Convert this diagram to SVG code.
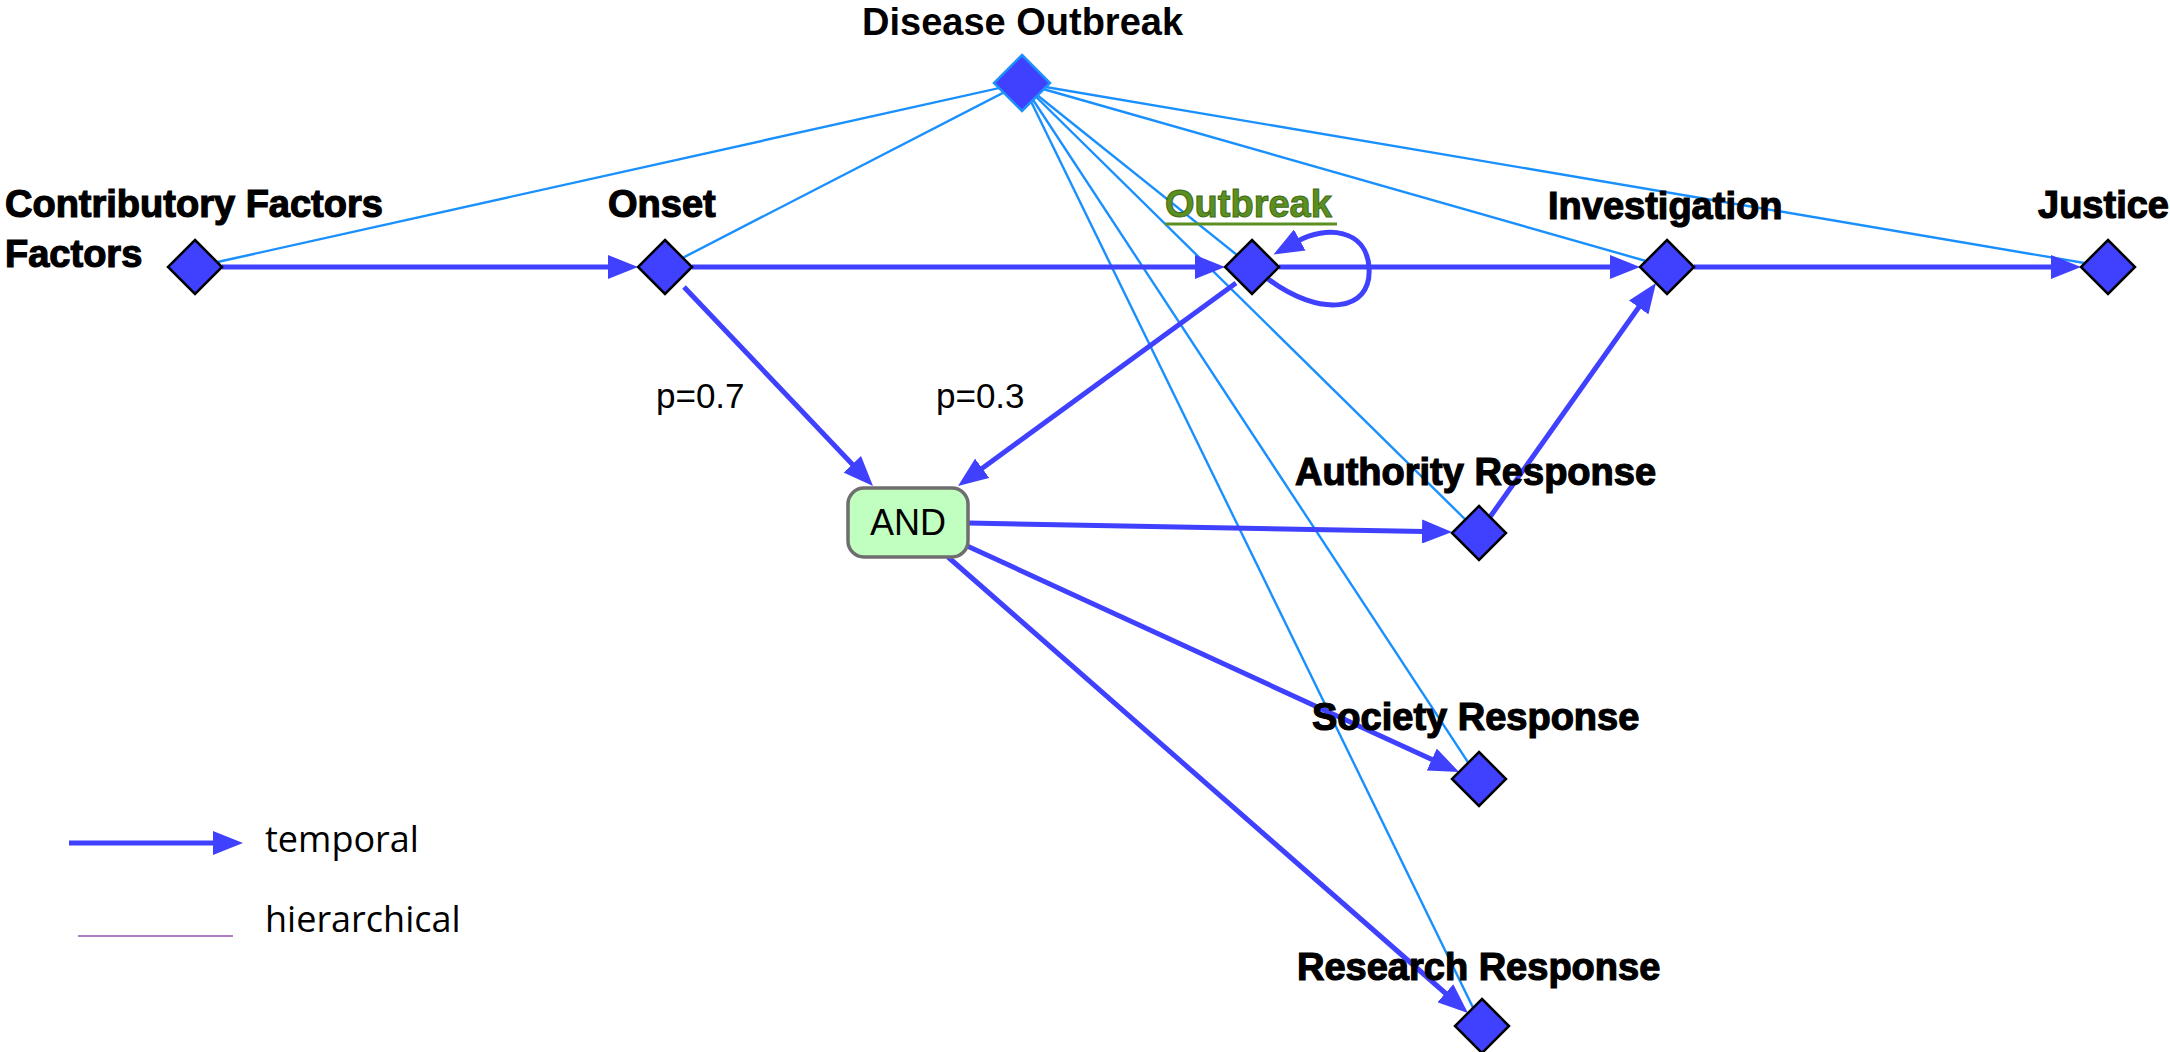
<svg xmlns="http://www.w3.org/2000/svg" width="2170" height="1052" viewBox="0 0 2170 1052">
<style>
.lbl{font-family:"Liberation Sans",Arial,sans-serif;font-weight:bold;font-size:38px;fill:#000;stroke:#000;stroke-width:1.2px}
.plain{font-family:"Liberation Sans",Arial,sans-serif;font-size:35px;fill:#000}
.leg{font-family:"Open Sans","Liberation Sans",sans-serif;font-size:36px;fill:#000}
.dia{fill:#4040FF;stroke:#000;stroke-width:2.5}
.tmp{fill:none;stroke:#4040FF;stroke-width:5}
.hier{fill:none;stroke:#1A90FF;stroke-width:2.4}
</style>
<defs>
<marker id="ah" markerUnits="userSpaceOnUse" markerWidth="30" markerHeight="24" refX="2" refY="12" orient="auto" viewBox="0 0 30 24">
<path d="M0,0 L30,12 L0,24 z" fill="#4040FF"/>
</marker>
</defs>
<rect width="2170" height="1052" fill="#fff"/>
<g id="connectors">
<g id="hierarchical">
<line class="hier" x1="1022" y1="83" x2="195" y2="267"/>
<line class="hier" x1="1022" y1="83" x2="665" y2="267"/>
<line class="hier" x1="1022" y1="83" x2="1252" y2="267"/>
<line class="hier" x1="1022" y1="83" x2="1667" y2="267"/>
<line class="hier" x1="1022" y1="83" x2="2108" y2="267"/>
<line class="hier" x1="1022" y1="83" x2="1479" y2="533"/>
<line class="hier" x1="1022" y1="83" x2="1479" y2="779"/>
<line class="hier" x1="1022" y1="83" x2="1482" y2="1026"/>
</g>
<g id="temporal">
<line class="tmp" x1="222" y1="267" x2="610" y2="267" marker-end="url(#ah)"/>
<line class="tmp" x1="692" y1="267" x2="1197" y2="267" marker-end="url(#ah)"/>
<line class="tmp" x1="1279" y1="267" x2="1612" y2="267" marker-end="url(#ah)"/>
<line class="tmp" x1="1694" y1="267" x2="2053" y2="267" marker-end="url(#ah)"/>
<line class="tmp" x1="684" y1="287" x2="853.7" y2="465.7" marker-end="url(#ah)"/>
<line class="tmp" x1="1236" y1="283" x2="980.6" y2="469.5" marker-end="url(#ah)"/>
<path class="tmp" d="M1268,279 C1320,318 1372,312 1369,268 C1367,228 1325,226 1298,241" marker-end="url(#ah)"/>
<line class="tmp" x1="968" y1="523" x2="1424" y2="531.5" marker-end="url(#ah)"/>
<line class="tmp" x1="965" y1="545" x2="1433.6" y2="760.3" marker-end="url(#ah)"/>
<line class="tmp" x1="948" y1="557" x2="1446.9" y2="994.5" marker-end="url(#ah)"/>
<line class="tmp" x1="1490" y1="517" x2="1639.8" y2="305.8" marker-end="url(#ah)"/>
</g>
<text class="plain" x="656" y="408">p=0.7</text>
<text class="plain" x="936" y="408">p=0.3</text>
</g>
<g id="node-disease-outbreak">
<polygon points="1022,55 1050,83 1022,111 994,83" fill="#4040FF" stroke="#1E90FF" stroke-width="2.5"/>
<text class="lbl" x="862" y="35" style="stroke:none">Disease Outbreak</text>
</g>
<g id="node-contributory">
<polygon class="dia" points="195,240 222,267 195,294 168,267"/>
<text class="lbl" x="5" y="217">Contributory Factors</text>
<text class="lbl" x="5" y="267">Factors</text>
</g>
<g id="node-onset">
<polygon class="dia" points="665,240 692,267 665,294 638,267"/>
<text class="lbl" x="608" y="217">Onset</text>
</g>
<g id="node-outbreak">
<polygon class="dia" points="1252,240 1279,267 1252,294 1225,267"/>
<text class="lbl" x="1165" y="217" style="fill:#5B8F22;stroke:#3f6a14;stroke-width:1">Outbreak</text>
<line x1="1165" y1="224" x2="1337" y2="224" stroke="#5B8F22" stroke-width="3"/>
</g>
<g id="node-investigation">
<polygon class="dia" points="1667,240 1694,267 1667,294 1640,267"/>
<text class="lbl" x="1548" y="219">Investigation</text>
</g>
<g id="node-justice">
<polygon class="dia" points="2108,240 2135,267 2108,294 2081,267"/>
<text class="lbl" x="2038" y="218">Justice</text>
</g>
<g id="node-and">
<rect x="848" y="488" width="120" height="69" rx="16" fill="#C1FFC1" stroke="#6E6E6E" stroke-width="3.5"/>
<text class="plain" x="908" y="535" text-anchor="middle" style="font-size:36px">AND</text>
</g>
<g id="node-authority">
<polygon class="dia" points="1479,506 1506,533 1479,560 1452,533"/>
<text class="lbl" x="1295" y="485">Authority Response</text>
</g>
<g id="node-society">
<polygon class="dia" points="1479,752 1506,779 1479,806 1452,779"/>
<text class="lbl" x="1312" y="730">Society Response</text>
</g>
<g id="node-research">
<polygon class="dia" points="1482,999 1509,1026 1482,1053 1455,1026"/>
<text class="lbl" x="1297" y="980">Research Response</text>
</g>
<g id="legend">
<line x1="69" y1="843" x2="215" y2="843" stroke="#4040FF" stroke-width="5"/>
<path d="M213,831 L243,843 L213,855 z" fill="#4040FF"/>
<text class="leg" x="265" y="852">temporal</text>
<line x1="78" y1="936" x2="233" y2="936" stroke="#B07CC6" stroke-width="2"/>
<text class="leg" x="265" y="932">hierarchical</text>
</g>
</svg>
